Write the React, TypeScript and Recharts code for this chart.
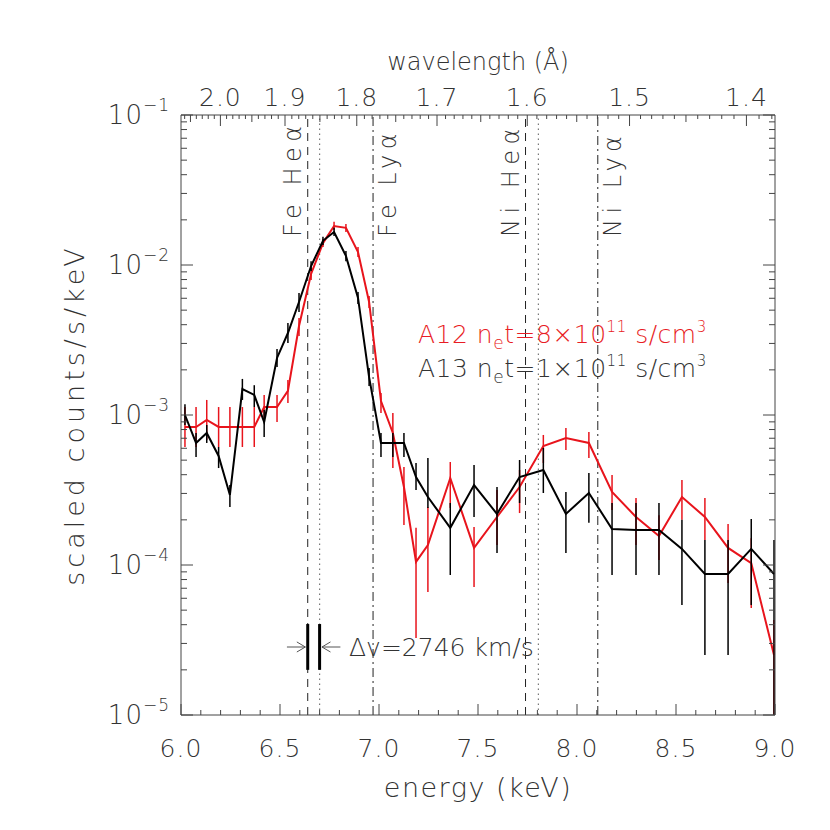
import React from 'react';
import { LineChart, Line, XAxis, YAxis, ErrorBar, ReferenceLine } from 'recharts';

// ---------- data ----------
const energy = [6.02, 6.076, 6.13, 6.19, 6.247, 6.31, 6.37, 6.42, 6.485, 6.54, 6.596, 6.657, 6.717, 6.773, 6.833, 6.894, 6.95, 7.01, 7.07, 7.126, 7.187, 7.247, 7.36, 7.48, 7.596, 7.71, 7.83, 7.944, 8.06, 8.177, 8.298, 8.414, 8.53, 8.646, 8.763, 8.88, 8.995];

const a13Val = [1.00e-3, 6.51e-4, 7.59e-4, 5.33e-4, 2.93e-4, 1.49e-3, 1.36e-3, 8.98e-4, 2.40e-3, 3.52e-3, 5.67e-3, 9.84e-3, 1.45e-2, 1.66e-2, 1.15e-2, 6.03e-3, 1.79e-3, 6.51e-4, 6.51e-4, 6.51e-4, 3.86e-4, 2.84e-4, 1.77e-4, 3.41e-4, 2.19e-4, 3.86e-4, 4.30e-4, 2.19e-4, 3.02e-4, 1.74e-4, 1.71e-4, 1.71e-4, 1.28e-4, 8.71e-5, 8.71e-5, 1.28e-4, 8.71e-5];
const a13Lo = [8.58e-4, 5.25e-4, 6.51e-4, 4.43e-4, 2.44e-4, 1.26e-3, 1.13e-3, 7.13e-4, 2.09e-3, 3.02e-3, 4.86e-3, 9.12e-3, 1.36e-2, 1.56e-2, 1.06e-2, 5.50e-3, 1.56e-3, 5.25e-4, 5.25e-4, 5.25e-4, 3.16e-4, 2.40e-4, 8.58e-5, 2.09e-4, 1.20e-4, 2.59e-4, 3.02e-4, 1.20e-4, 1.91e-4, 8.58e-5, 8.58e-5, 8.58e-5, 5.41e-5, 2.51e-5, 2.51e-5, 5.41e-5, 1.0e-5];
const a13Hi = [1.18e-3, 7.59e-4, 8.58e-4, 6.12e-4, 3.41e-4, 1.74e-3, 1.58e-3, 1.08e-3, 2.75e-3, 4.10e-3, 6.51e-3, 1.06e-2, 1.54e-2, 1.77e-2, 1.24e-2, 6.61e-3, 2.06e-3, 7.59e-4, 7.59e-4, 7.59e-4, 4.79e-4, 5.17e-4, 2.59e-4, 4.64e-4, 3.31e-4, 5.01e-4, 6.03e-4, 3.07e-4, 4.10e-4, 2.59e-4, 2.59e-4, 2.59e-4, 2.00e-4, 1.47e-4, 1.47e-4, 2.03e-4, 1.47e-4];

const a12Val = [8.32e-4, 8.32e-4, 9.27e-4, 8.32e-4, 8.32e-4, 8.32e-4, 8.32e-4, 1.13e-3, 1.13e-3, 1.45e-3, 3.92e-3, 8.71e-3, 1.40e-2, 1.82e-2, 1.77e-2, 1.22e-2, 5.67e-3, 1.24e-3, 7.59e-4, 3.31e-4, 1.05e-4, 1.36e-4, 3.80e-4, 1.30e-4, 2.09e-4, 3.31e-4, 6.21e-4, 7.03e-4, 6.51e-4, 3.07e-4, 2.09e-4, 1.56e-4, 2.84e-4, 2.09e-4, 1.30e-4, 1.03e-4, 2.51e-5];
const a12Lo = [6.12e-4, 6.12e-4, 6.81e-4, 6.12e-4, 6.12e-4, 6.12e-4, 6.12e-4, 9.27e-4, 8.98e-4, 1.20e-3, 3.36e-3, 7.94e-3, 1.32e-2, 1.71e-2, 1.66e-2, 1.13e-2, 5.17e-3, 1.03e-3, 4.43e-4, 1.85e-4, 3.26e-5, 6.61e-5, 2.40e-4, 7.13e-5, 1.36e-4, 2.22e-4, 4.79e-4, 5.85e-4, 5.17e-4, 2.33e-4, 1.36e-4, 1.08e-4, 2.00e-4, 1.47e-4, 7.59e-5, 5.16e-5, 1.0e-5];
const a12Hi = [1.13e-3, 1.13e-3, 1.26e-3, 1.13e-3, 1.13e-3, 1.13e-3, 1.13e-3, 1.36e-3, 1.36e-3, 1.71e-3, 4.43e-3, 9.55e-3, 1.49e-2, 1.94e-2, 1.88e-2, 1.32e-2, 6.21e-3, 1.40e-3, 1.03e-3, 4.50e-4, 1.77e-4, 2.44e-4, 4.86e-4, 1.79e-4, 3.16e-4, 4.30e-4, 7.36e-4, 8.19e-4, 7.70e-4, 3.98e-4, 2.80e-4, 2.15e-4, 3.69e-4, 2.80e-4, 1.88e-4, 1.51e-4, 4.30e-5];

// emission lines (keV)
const lineNames = ['Fe He\u03b1', 'Fe Ly\u03b1', 'Ni He\u03b1', 'Ni Ly\u03b1'];
const lineEnergy = [6.64, 6.97, 7.74, 8.105];
const lineDash = ['8 6', '9 4 2 4', '8 6', '9 4 2 4'];
const lineSide = ['left', 'right', 'left', 'right'];
const shiftedEnergy = [6.70, 7.805];

// axis ticks
const HC = 12.398; // keV * Angstrom
const bottomTicks = Array.from({ length: 31 }, (_, i) => Math.round((6 + i * 0.1) * 10) / 10);
const wavelengthTicks = Array.from({ length: 69 }, (_, i) => Math.round((1.38 + i * 0.01) * 100) / 100);
const wavelengthLabels = ['2.0', '1.9', '1.8', '1.7', '1.6', '1.5', '1.4'];
const topTicks = wavelengthTicks.map((l) => HC / l);
const yTicks: number[] = [];
for (let e = -5; e < -1; e++) for (let m = 1; m < 10; m++) yTicks.push(m * Math.pow(10, e));
yTicks.push(0.1);

// Δv annotation
const dvText = '\u0394v=2746 km/s';
const dvBarY = [2.0e-5, 4.04e-5];
const dvArrowY = 2.84e-5;
const dvHeadY = [3.07e-5, 2.63e-5];

const data = energy.map((e, i) => ({
  e,
  a12: a12Val[i],
  a13: a13Val[i],
  a12Err: [a12Val[i] - a12Lo[i], a12Hi[i] - a12Val[i]],
  a13Err: [a13Val[i] - a13Lo[i], a13Hi[i] - a13Val[i]],
}));

const FONT = "'DejaVu Sans ExtraLight', 'DejaVu Sans', sans-serif";
const FW = 200;
const TXT = '#333';
const AXIS = '#444';
const RED = '#e8141c';

const BottomTick = (props: any) => {
  const { x, y, payload } = props;
  const v = payload.value;
  const major = Math.abs(v * 2 - Math.round(v * 2)) < 1e-6;
  return (
    <g>
      <line x1={x} x2={x} y1={y} y2={y - (major ? 11 : 5)} stroke={AXIS} strokeWidth={1} />
      {major && (
        <text x={x} y={y + 42} textAnchor="middle" fontFamily={FONT} fontWeight={FW} fontSize={25} fill={TXT} letterSpacing={1}>
          {v.toFixed(1)}
        </text>
      )}
    </g>
  );
};

const TopTick = (props: any) => {
  const { x, y, payload } = props;
  const lam = HC / payload.value;
  const n = Math.round(lam * 100);
  const major = n % 10 === 0;
  const mid = n % 5 === 0;
  const label = (n / 100).toFixed(1);
  return (
    <g>
      <line x1={x} x2={x} y1={y} y2={y + (major ? 11 : mid ? 7 : 4)} stroke={AXIS} strokeWidth={1} />
      {major && wavelengthLabels.includes(label) && (
        <text x={x} y={y - 9} textAnchor="middle" fontFamily={FONT} fontWeight={FW} fontSize={25} fill={TXT} letterSpacing={1}>
          {label}
        </text>
      )}
    </g>
  );
};

const isDecade = (v: number) => {
  const ex = Math.floor(Math.log10(v) + 1e-9);
  return { ex, major: Math.abs(v / Math.pow(10, ex) - 1) < 1e-6 };
};

const LeftTick = (props: any) => {
  const { x, y, payload } = props;
  const { ex, major } = isDecade(payload.value);
  return (
    <g>
      <line x1={x} x2={x + (major ? 12 : 6)} y1={y} y2={y} stroke={AXIS} strokeWidth={1} />
      {major && (
        <text x={x - 11} y={y + 9} textAnchor="end" fontFamily={FONT} fontWeight={FW} fontSize={26} fill={TXT} letterSpacing={1}>
          10
          <tspan fontSize={17} dy={-13}>{'\u2212' + -ex}</tspan>
        </text>
      )}
    </g>
  );
};

const RightTick = (props: any) => {
  const { x, y, payload } = props;
  const { major } = isDecade(payload.value);
  return <line x1={x} x2={x - (major ? 12 : 6)} y1={y} y2={y} stroke={AXIS} strokeWidth={1} />;
};

const makeLineLabel = (text: string, side: string) => (props: any) => {
  const vb = props && props.viewBox;
  if (!vb) return null;
  const y0 = vb.y + 122;
  const bx = side === 'left' ? vb.x - 7 : vb.x + 23;
  return (
    <text
      transform={`rotate(-90 ${bx} ${y0})`}
      x={bx}
      y={y0}
      fontFamily={FONT}
      fontWeight={FW}
      fontSize={24}
      fill={TXT}
      letterSpacing={5.5}
    >
      {text}
    </text>
  );
};

const AX = { xAxisId: 'b', yAxisId: 'l' };

export default function App() {
  return (
    <div style={{ position: 'absolute', left: 0, top: 0, width: 830, height: 830, background: '#fff' }}>
      <LineChart width={830} height={830} data={data} margin={{ top: 114, right: 54, bottom: 114, left: 180 }}>
        <XAxis
          xAxisId="b"
          dataKey="e"
          type="number"
          domain={[6, 9]}
          ticks={bottomTicks}
          interval={0}
          height={1}
          tickSize={0}
          tickMargin={0}
          tickLine={false}
          tick={<BottomTick />}
          axisLine={{ stroke: AXIS }}
          allowDataOverflow
        />
        <XAxis
          xAxisId="t"
          orientation="top"
          dataKey="e"
          type="number"
          domain={[6, 9]}
          ticks={topTicks}
          interval={0}
          height={1}
          tickSize={0}
          tickMargin={0}
          tickLine={false}
          tick={<TopTick />}
          axisLine={{ stroke: AXIS }}
          allowDataOverflow
        />
        <YAxis
          yAxisId="l"
          scale="log"
          type="number"
          domain={[1e-5, 1e-1]}
          ticks={yTicks}
          interval={0}
          width={1}
          tickSize={0}
          tickMargin={0}
          tickLine={false}
          tick={<LeftTick />}
          axisLine={{ stroke: AXIS }}
          allowDataOverflow
        />
        <YAxis
          yAxisId="r"
          orientation="right"
          scale="log"
          type="number"
          domain={[1e-5, 1e-1]}
          ticks={yTicks}
          interval={0}
          width={1}
          tickSize={0}
          tickMargin={0}
          tickLine={false}
          tick={<RightTick />}
          axisLine={{ stroke: AXIS }}
          allowDataOverflow
        />

        {lineEnergy.map((en, i) => (
          <ReferenceLine
            key={'l' + i}
            {...AX}
            x={en}
            stroke="#222"
            strokeWidth={1}
            strokeDasharray={lineDash[i]}
            label={makeLineLabel(lineNames[i], lineSide[i])}
          />
        ))}
        {shiftedEnergy.map((en, i) => (
          <ReferenceLine key={'s' + i} {...AX} x={en} stroke="#777" strokeWidth={1.2} strokeDasharray="1.5 3.5" />
        ))}

        {/* Δv annotation */}
        <ReferenceLine {...AX} segment={[{ x: lineEnergy[0], y: dvBarY[0] }, { x: lineEnergy[0], y: dvBarY[1] }]} stroke="#000" strokeWidth={3} />
        <ReferenceLine {...AX} segment={[{ x: shiftedEnergy[0], y: dvBarY[0] }, { x: shiftedEnergy[0], y: dvBarY[1] }]} stroke="#000" strokeWidth={3} />
        <ReferenceLine {...AX} segment={[{ x: 6.535, y: dvArrowY }, { x: 6.628, y: dvArrowY }]} stroke="#555" strokeWidth={1} />
        <ReferenceLine {...AX} segment={[{ x: 6.585, y: dvHeadY[0] }, { x: 6.628, y: dvArrowY }]} stroke="#555" strokeWidth={1} />
        <ReferenceLine {...AX} segment={[{ x: 6.585, y: dvHeadY[1] }, { x: 6.628, y: dvArrowY }]} stroke="#555" strokeWidth={1} />
        <ReferenceLine {...AX} segment={[{ x: 6.805, y: dvArrowY }, { x: 6.712, y: dvArrowY }]} stroke="#555" strokeWidth={1} />
        <ReferenceLine {...AX} segment={[{ x: 6.755, y: dvHeadY[0] }, { x: 6.712, y: dvArrowY }]} stroke="#555" strokeWidth={1} />
        <ReferenceLine {...AX} segment={[{ x: 6.755, y: dvHeadY[1] }, { x: 6.712, y: dvArrowY }]} stroke="#555" strokeWidth={1} />

        <Line {...AX} dataKey="a12" stroke={RED} strokeWidth={2} dot={false} isAnimationActive={false} type="linear">
          <ErrorBar dataKey="a12Err" width={0} stroke={RED} strokeWidth={1.5} direction="y" isAnimationActive={false} />
        </Line>
        <Line {...AX} dataKey="a13" stroke="#000" strokeWidth={2} dot={false} isAnimationActive={false} type="linear">
          <ErrorBar dataKey="a13Err" width={0} stroke="#000" strokeWidth={1.5} direction="y" isAnimationActive={false} />
        </Line>
      </LineChart>

      <svg width={830} height={830} style={{ position: 'absolute', left: 0, top: 0, pointerEvents: 'none' }}>
        <text x={478} y={797} textAnchor="middle" fontFamily={FONT} fontWeight={FW} fontSize={27} fill={TXT} letterSpacing={1.5}>
          energy (keV)
        </text>
        <text x={478} y={70} textAnchor="middle" fontFamily={FONT} fontWeight={FW} fontSize={24} fill={TXT}>
          wavelength (Å)
        </text>
        <text transform="rotate(-90 84 415)" x={84} y={415} textAnchor="middle" fontFamily={FONT} fontWeight={FW} fontSize={27} fill={TXT} letterSpacing={4}>
          scaled counts/s/keV
        </text>
        <text x={418} y={343} fontFamily={FONT} fontWeight={FW} fontSize={25} fill="#e81c24" letterSpacing={0.5}>
          A12 n<tspan fontSize={17} dy={6}>e</tspan>
          <tspan dy={-6}>t=8×10</tspan>
          <tspan fontSize={15} dy={-11}>11</tspan>
          <tspan dy={11}> s/cm</tspan>
          <tspan fontSize={15} dy={-11}>3</tspan>
        </text>
        <text x={418} y={377} fontFamily={FONT} fontWeight={FW} fontSize={25} fill={TXT} letterSpacing={0.5}>
          A13 n<tspan fontSize={17} dy={6}>e</tspan>
          <tspan dy={-6}>t=1×10</tspan>
          <tspan fontSize={15} dy={-11}>11</tspan>
          <tspan dy={11}> s/cm</tspan>
          <tspan fontSize={15} dy={-11}>3</tspan>
        </text>
        <text x={349} y={656} fontFamily={FONT} fontWeight={FW} fontSize={25} fill={TXT}>
          {dvText}
        </text>
      </svg>
    </div>
  );
}
